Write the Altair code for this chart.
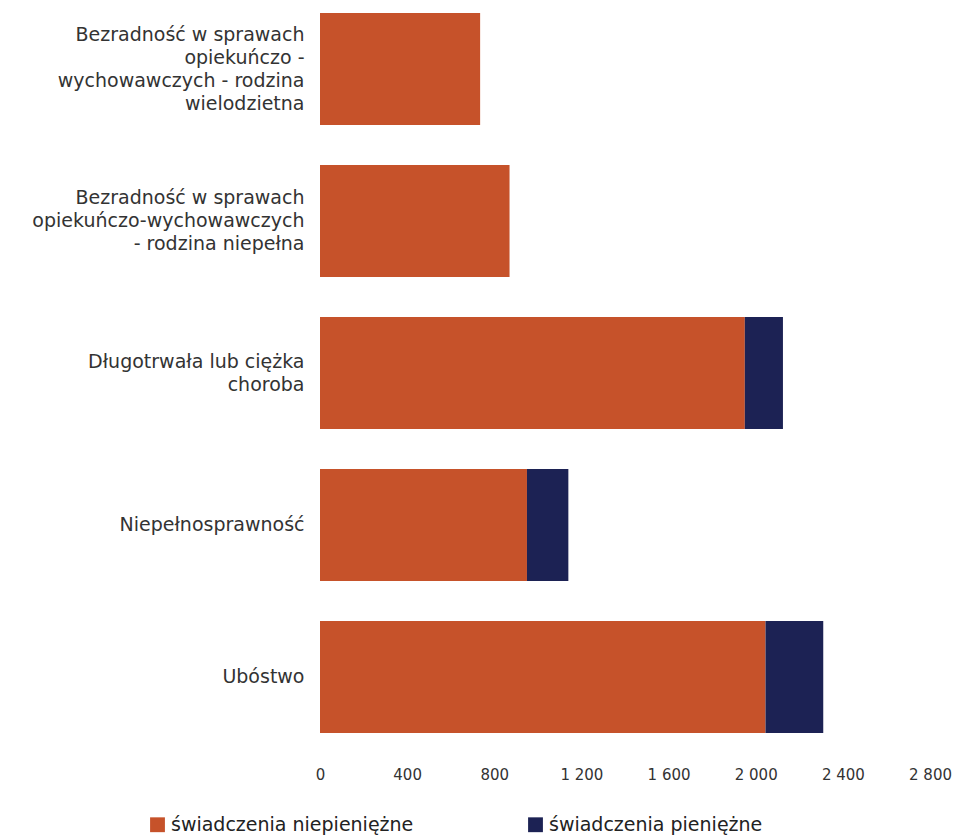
import altair as alt
import pandas as pd

categories = [
    "Bezradność w sprawach|opiekuńczo -|wychowawczych - rodzina|wielodzietna",
    "Bezradność w sprawach|opiekuńczo-wychowawczych|- rodzina niepełna",
    "Długotrwała lub ciężka|choroba",
    "Niepełnosprawność",
    "Ubóstwo",
]
niepieniezne = [735, 870, 1950, 950, 2045]
pieniezne = [0, 0, 175, 190, 265]
series = ["świadczenia niepieniężne", "świadczenia pieniężne"]
colors = ["#C6522A", "#1C2254"]
ticks = [0, 400, 800, 1200, 1600, 2000, 2400, 2800]

rows = []
for c, a, b in zip(categories, niepieniezne, pieniezne):
    rows.append({"kat": c, "seria": series[0], "wartosc": a, "ord": 0})
    rows.append({"kat": c, "seria": series[1], "wartosc": b, "ord": 1})
df = pd.DataFrame(rows)

font = "DejaVu Sans"
LH = 23
nlines = "length(split(datum.value, '|'))"
label_offset = {
    "condition": [
        {"test": f"{nlines} == 4", "value": -1.5 * LH},
        {"test": f"{nlines} == 3", "value": -1.0 * LH},
        {"test": f"{nlines} == 2", "value": -0.5 * LH},
    ],
    "value": 0,
}

chart = alt.Chart(df).mark_bar().encode(
    y=alt.Y("kat:N", sort=categories, title=None,
            scale=alt.Scale(paddingInner=0.263, paddingOuter=0.033),
            axis=alt.Axis(labelExpr="split(datum.value, '|')", ticks=False, domain=False,
                          labelPadding=16, labelFontSize=19, labelLineHeight=LH,
                          labelOffset=label_offset,
                          labelColor="#333333", labelFont=font, labelLimit=400)),
    x=alt.X("wartosc:Q", title=None, stack="zero",
            scale=alt.Scale(domain=[0, 2800], nice=False),
            axis=alt.Axis(values=ticks, grid=False, ticks=False, domain=False,
                          labelExpr="replace(format(datum.value, ','), ',', ' ')",
                          labelPadding=29, labelFontSize=15, labelColor="#333333",
                          labelFont=font, labelFlush=False)),
    color=alt.Color("seria:N", scale=alt.Scale(domain=series, range=colors),
                    legend=alt.Legend(title=None, orient="none", direction="horizontal",
                                      legendX=-172, legendY=807, symbolType="square",
                                      symbolSize=220, symbolStrokeWidth=0,
                                      labelFontSize=19, labelFont=font, labelColor="#222222",
                                      labelLimit=400, columnPadding=112)),
    order=alt.Order("ord:Q"),
).properties(
    width=610, height=730,
    padding={"left": 312, "top": 0, "right": 24, "bottom": 100},
    autosize="none",
).configure_view(stroke=None)

chart.save("out.html", embed_options={"renderer": "svg", "actions": False})
